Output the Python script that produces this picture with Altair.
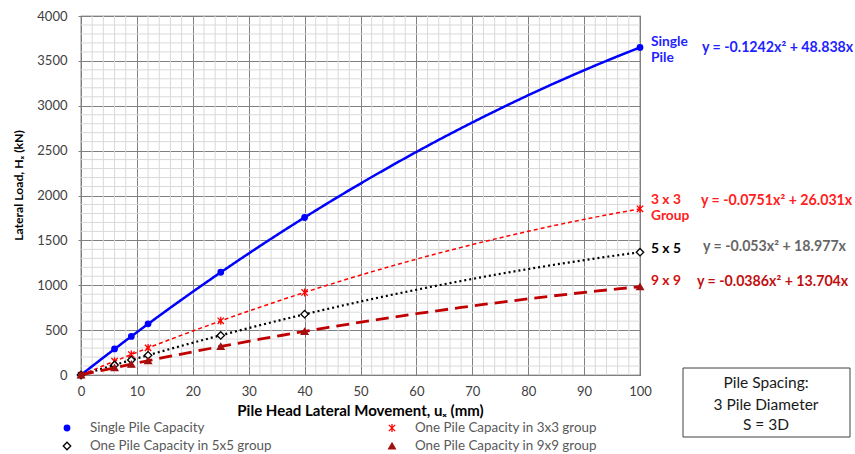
import altair as alt
import pandas as pd

# ---- data ----
movement = [0, 6, 9, 12, 25, 40, 100]
single_pile = [0, 290, 430, 570, 1145, 1755, 3650]
group_3x3 = [0, 154, 228, 302, 604, 920, 1852]
group_5x5 = [0, 112, 167, 220, 441, 678, 1368]
group_9x9 = [0, 81, 120, 159, 318, 486, 984]

series_names = ["Single Pile Capacity", "One Pile Capacity in 3x3 group",
                "One Pile Capacity in 5x5 group", "One Pile Capacity in 9x9 group"]
series_values = [single_pile, group_3x3, group_5x5, group_9x9]

x_ticks = list(range(0, 101, 10))
y_ticks = list(range(0, 4001, 500))

FONT = "Lato"
W, H = 559, 359
LEFT, TOP = 81, 16

rows = []
for name, vals in zip(series_names, series_values):
    for xv, yv in zip(movement, vals):
        rows.append({"series": name, "x": xv, "y": yv})
df = pd.DataFrame(rows)

xs = alt.Scale(domain=[0, 100], nice=False, zero=False)
ys = alt.Scale(domain=[0, 4000], nice=False)

ASTER = "M-1,-1L1,1M-1,1L1,-1M0,-1.25L0,1.25"

styles = {
    "Single Pile Capacity": dict(color="#0000ff", width=2.5, dash=[1, 0],
                                 shape="circle", filled=True, fill="#0000ff", stroke="#0000ff", size=30),
    "One Pile Capacity in 3x3 group": dict(color="#ff0000", width=1.5, dash=[4, 3],
                                           shape=ASTER, filled=False, fill="none", stroke="#ff0000", size=40),
    "One Pile Capacity in 5x5 group": dict(color="#000000", width=2.2, dash=[2, 3],
                                           shape="diamond", filled=True, fill="white", stroke="#000000", size=55),
    "One Pile Capacity in 9x9 group": dict(color="#c00000", width=2.8, dash=[13, 7],
                                           shape="triangle-up", filled=True, fill="#a01010", stroke="#a01010", size=45),
}

x_axis = alt.Axis(values=x_ticks, grid=True, gridColor="#808080", gridWidth=1,
                  ticks=False, domain=False, labelFont=FONT, labelFontSize=13,
                  labelColor="#404040", labelPadding=10, labelFlush=False, format="d",
                  title="Pile Head Lateral Movement, uₓ (mm)", titleFont=FONT,
                  titleFontSize=15, titleFontWeight="bold", titleColor="#000000",
                  titleX=279, titleY=35, titleBaseline="middle")
y_axis = alt.Axis(values=y_ticks, grid=True, gridColor="#808080", gridWidth=1,
                  ticks=True, tickSize=3, tickColor="#808080", domain=False,
                  labelFont=FONT, labelFontSize=13, labelFlush=False, format="d",
                  labelColor="#404040", labelPadding=11,
                  title="Lateral Load, Hₓ (kN)", titleFont=FONT,
                  titleFontSize=12.2, titleFontWeight="bold", titleColor="#000000",
                  titleX=-63, titleY=169, titleAngle=-90, titleBaseline="middle",
                  titleAlign="center")

base = alt.Chart(df)

# minor grid (carries the axes, whose grid draws the major lines)
minor_x = alt.Chart(alt.sequence(0, 101, 2, as_="v")).transform_filter(
    "datum.v % 10 != 0").mark_rule(color="#d9d9d9", strokeWidth=1).encode(
    x=alt.X("v:Q", scale=xs, axis=x_axis))
minor_y = alt.Chart(alt.sequence(0, 4001, 100, as_="v")).transform_filter(
    "datum.v % 500 != 0").mark_rule(color="#d9d9d9", strokeWidth=1).encode(
    y=alt.Y("v:Q", scale=ys, axis=y_axis))

layers = [minor_x, minor_y]

for name in series_names:
    st = styles[name]
    sub = base.transform_filter(alt.datum.series == name)
    line = sub.transform_regression("x", "y", method="poly", order=2, extent=[0, 100]).mark_line(
        color=st["color"], strokeWidth=st["width"], strokeDash=st["dash"]).encode(
        x=alt.X("x:Q", scale=xs, axis=x_axis),
        y=alt.Y("y:Q", scale=ys, axis=y_axis))
    pts = sub.mark_point(shape=st["shape"], filled=st["filled"], fill=st["fill"],
                         stroke=st["stroke"], strokeWidth=1.3, size=st["size"], opacity=1).encode(
        x=alt.X("x:Q", scale=xs, axis=x_axis),
        y=alt.Y("y:Q", scale=ys, axis=y_axis))
    layers += [line, pts]

# right-hand labels (pixel positions relative to plot origin)
labels = pd.DataFrame([
    {"t": "Single", "px": 651, "py": 42, "c": "#1f1fff"},
    {"t": "Pile", "px": 651, "py": 58, "c": "#1f1fff"},
    {"t": "3 x 3", "px": 651, "py": 200, "c": "#ff2020"},
    {"t": "Group", "px": 651, "py": 216, "c": "#ff2020"},
    {"t": "5 x 5", "px": 651, "py": 249, "c": "#000000"},
    {"t": "9 x 9", "px": 651, "py": 281, "c": "#d01010"},
])
eqs = pd.DataFrame([
    {"t": "y = -0.1242x² + 48.838x", "px": 702, "py": 48, "c": "#1f1fff"},
    {"t": "y = -0.0751x² + 26.031x", "px": 701, "py": 201, "c": "#ff2020"},
    {"t": "y = -0.053x² + 18.977x", "px": 703, "py": 247, "c": "#666666"},
    {"t": "y = -0.0386x² + 13.704x", "px": 697, "py": 282, "c": "#c01010"},
])
for d, fs in ((labels, 13.8), (eqs, 14.2)):
    d["px"] = d["px"] - LEFT
    d["py"] = d["py"] - TOP
    layers.append(alt.Chart(d).mark_text(align="left", baseline="middle", font=FONT,
                                         fontSize=fs, fontWeight="bold").encode(
        x=alt.X("px:Q", scale=None), y=alt.Y("py:Q", scale=None),
        text="t:N", color=alt.Color("c:N", scale=None)))

# legend
leg = pd.DataFrame([
    {"name": series_names[0], "px": 67, "py": 428},
    {"name": series_names[1], "px": 392, "py": 428},
    {"name": series_names[2], "px": 67, "py": 446},
    {"name": series_names[3], "px": 392, "py": 446},
])
leg["px"] = leg["px"] - LEFT
leg["py"] = leg["py"] - TOP
leg["tx"] = leg["px"] + 23
for name in series_names:
    st = styles[name]
    sub = alt.Chart(leg).transform_filter(alt.datum.name == name)
    layers.append(sub.mark_point(shape=st["shape"], filled=st["filled"], fill=st["fill"],
                                 stroke=st["stroke"], strokeWidth=1.3, size=st["size"], opacity=1).encode(
        x=alt.X("px:Q", scale=None), y=alt.Y("py:Q", scale=None)))
layers.append(alt.Chart(leg).mark_text(align="left", baseline="middle", font=FONT,
                                       fontSize=13.4, color="#595959").encode(
    x=alt.X("tx:Q", scale=None), y=alt.Y("py:Q", scale=None), text="name:N"))

# note box
box = pd.DataFrame([{"x1": 683 - LEFT, "x2": 850 - LEFT, "y1": 368 - TOP, "y2": 437 - TOP}])
layers.append(alt.Chart(box).mark_rect(fill="white", stroke="#404040", strokeWidth=1).encode(
    x=alt.X("x1:Q", scale=None), x2="x2:Q", y=alt.Y("y1:Q", scale=None), y2="y2:Q"))
note = pd.DataFrame([
    {"t": "Pile Spacing:", "px": 766, "py": 383},
    {"t": "3 Pile Diameter", "px": 766, "py": 405},
    {"t": "S = 3D", "px": 766, "py": 425},
])
note["px"] = note["px"] - LEFT
note["py"] = note["py"] - TOP
layers.append(alt.Chart(note).mark_text(align="center", baseline="middle", font=FONT,
                                        fontSize=15.5, color="#1a1a1a").encode(
    x=alt.X("px:Q", scale=None), y=alt.Y("py:Q", scale=None), text="t:N"))

chart = alt.layer(*layers).properties(
    width=W, height=H,
    autosize=alt.AutoSizeParams(type="none"),
    padding={"left": LEFT, "top": TOP, "right": 855 - LEFT - W, "bottom": 454 - TOP - H},
    background="white",
).configure_view(stroke="#404040", strokeWidth=1.2)

chart.save("out.html", embed_options={"renderer": "svg", "actions": False})
